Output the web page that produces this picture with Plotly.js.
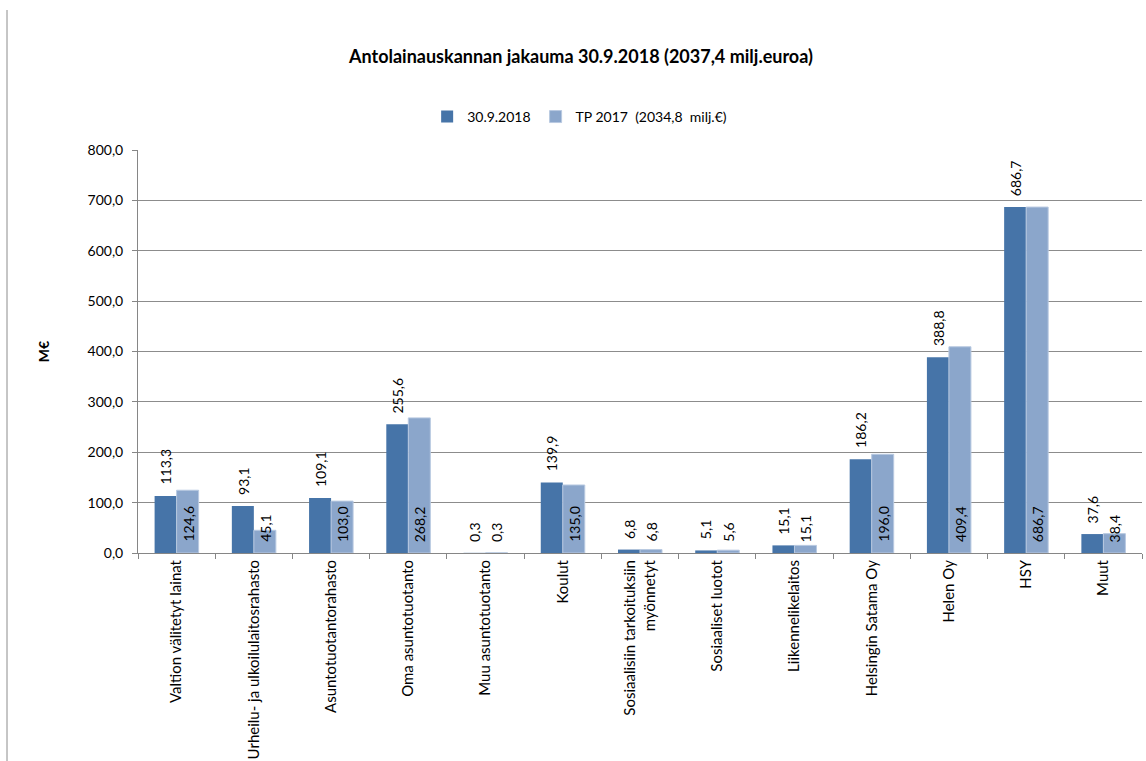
<!DOCTYPE html>
<html>
<head>
<meta charset="utf-8">
<script src="https://cdn.plot.ly/plotly-3.0.1.min.js"></script>
<style>html,body{margin:0;padding:0;background:#fff;}#chart{width:1146px;height:761px;}</style>
</head>
<body>
<div id="chart"></div>
<script>
const categories = [
  "Valtion välitetyt lainat",
  "Urheilu- ja ulkoilulaitosrahasto",
  "Asuntotuotantorahasto",
  "Oma asuntotuotanto",
  "Muu asuntotuotanto",
  "Koulut",
  "Sosiaalisiin tarkoituksiin<br>myönnetyt",
  "Sosiaaliset luotot",
  "Liikennelikelaitos",
  "Helsingin Satama Oy",
  "Helen Oy",
  "HSY",
  "Muut"
];
const series1Name = "30.9.2018";
const series2Name = "TP 2017  (2034,8  milj.€)";
const values2018 = [113.3, 93.1, 109.1, 255.6, 0.3, 139.9, 6.8, 5.1, 15.1, 186.2, 388.8, 686.7, 37.6];
const valuesTP2017 = [124.6, 45.1, 103.0, 268.2, 0.3, 135.0, 6.8, 5.6, 15.1, 196.0, 409.4, 686.7, 38.4];
const yTicks = [0, 100, 200, 300, 400, 500, 600, 700, 800];

const FONT = "Lato, 'Liberation Sans', sans-serif";
const C1 = "#4674A8";
const C2 = "#8BA6CB";
const BARGAP = 0.43;
const half = (1 - BARGAP) / 4;

const fmt = v => v.toFixed(1).replace('.', ',');

const traces = [
  {type: 'bar', name: series1Name, x: categories, y: values2018,
   marker: {color: C1}, hoverinfo: 'y'},
  {type: 'bar', name: series2Name.replace(/  /g, ' \u00a0'), x: categories, y: valuesTP2017,
   marker: {color: C2, line: {color: '#B8C9E1', width: 1}}, hoverinfo: 'y'}
];

const annotations = [];
values2018.forEach((v, i) => {
  annotations.push({x: i - half, y: v, xref: 'x', yref: 'y', text: fmt(v),
    showarrow: false, textangle: -90, yanchor: 'bottom', xanchor: 'center', yshift: 9,
    font: {family: FONT, size: 14, color: '#000'}});
});
valuesTP2017.forEach((v, i) => {
  annotations.push({x: i + half, y: 0, xref: 'x', yref: 'y', text: fmt(v),
    showarrow: false, textangle: -90, yanchor: 'bottom', xanchor: 'center', yshift: 9,
    font: {family: FONT, size: 14, color: '#000'}});
});

const layout = {
  width: 1146, height: 761,
  margin: {l: 138, r: 4, t: 150, b: 208},
  paper_bgcolor: '#fff', plot_bgcolor: '#fff',
  separators: ', ',
  font: {family: FONT, size: 14, color: '#000'},
  title: {text: '<b>Antolainauskannan jakauma 30.9.2018 (2037,4 milj.euroa)</b>',
    font: {family: FONT, size: 18, color: '#000'},
    xref: 'container', x: 0.507, xanchor: 'center', yref: 'container', y: 0.925, yanchor: 'middle'},
  barmode: 'group', bargap: BARGAP, bargroupgap: 0,
  showlegend: true,
  legend: {orientation: 'h', x: 0.288, xanchor: 'left', y: 1.082, yanchor: 'middle',
    font: {family: FONT, size: 14, color: '#000'}, traceorder: 'normal'},
  xaxis: {type: 'category', tickangle: -90, tickson: 'boundaries', ticks: 'outside', ticklen: 5,
    tickcolor: '#868686', showline: true, linecolor: '#868686', linewidth: 1, showgrid: false,
    tickfont: {family: FONT, size: 15, color: '#000'}, fixedrange: true, automargin: false},
  yaxis: {range: [0, 800], tickvals: yTicks, tickformat: '.1f', ticks: 'outside', ticklen: 5,
    tickcolor: '#868686', showline: true, linecolor: '#868686', linewidth: 1,
    showgrid: true, gridcolor: '#8C8C8C', gridwidth: 1, zeroline: false,
    ticklabelstandoff: 6,
    tickfont: {family: FONT, size: 14, color: '#000'},
    title: {text: '<b>M€</b>', font: {family: FONT, size: 14, color: '#000'}, standoff: 34},
    fixedrange: true, automargin: false},
  annotations: annotations,
  shapes: [{type: 'line', xref: 'paper', yref: 'paper',
    x0: (7 - 138) / 1004, x1: (7 - 138) / 1004, y0: (553 - 10) / 403, y1: (553 - 770) / 403,
    line: {color: '#8C8C8C', width: 1}}]
};

Plotly.newPlot('chart', traces, layout, {displayModeBar: false, staticPlot: true});
</script>
</body>
</html>
